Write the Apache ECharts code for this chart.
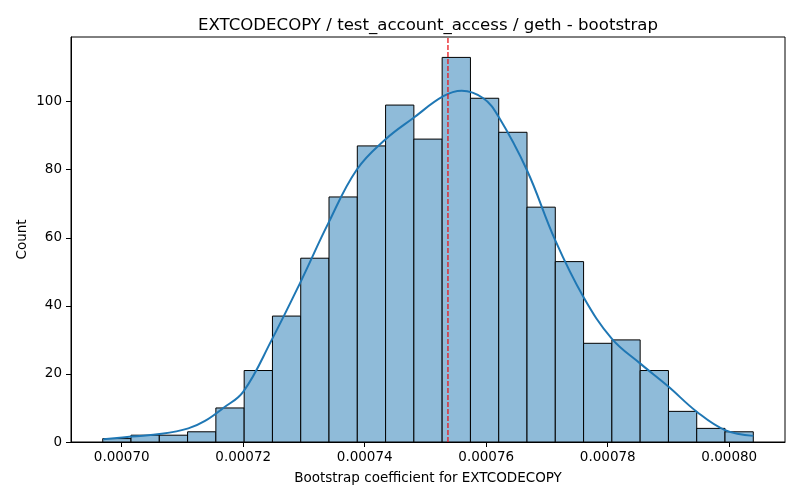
<!DOCTYPE html>
<html>
<head>
<meta charset="utf-8">
<script src="https://cdn.jsdelivr.net/npm/echarts@6/dist/echarts.min.js"></script>
<style>
  html, body { margin: 0; padding: 0; background: #fff; }
  #main { width: 800px; height: 500px; }
</style>
</head>
<body>
<div id="main"></div>
<script>
// histogram counts, 23 equal-width bins
var binStart = 0.000696873;
var binWidth = 0.000004656;
var counts = [1, 2, 2, 3, 10, 21, 37, 54, 72, 87, 99, 89, 113, 101, 91, 69, 53, 29, 30, 21, 9, 4, 3];

// kde curve (scaled to counts)
var kdeX = [0.00069697, 0.00070165, 0.00070658, 0.00071096, 0.00071371, 0.00071672, 0.00072002,
  0.00072469, 0.00072935, 0.00073401, 0.00073868, 0.00074334, 0.00074800, 0.00075294, 0.00075597,
  0.00075952, 0.00076199, 0.00076667, 0.00077133, 0.00077598, 0.00078066, 0.00078532, 0.00078998,
  0.00079465, 0.00079931, 0.00080397];
var kdeY = [0.8, 1.6, 2.4, 4.0, 6.2, 10.0, 14.8, 30, 46.7, 64.3, 80, 88.8, 95.2, 101.6, 103.2,
  101, 95.7, 80, 59.4, 42.7, 30.4, 23.1, 16.3, 8.9, 3.5, 1.8];

// vertical dashed reference line
var meanX = [0.0007537, 0.0007537];
var meanY = [0, 119];

var xTicks = [0.00070, 0.00072, 0.00074, 0.00076, 0.00078, 0.00080];
var yTicks = [0, 20, 40, 60, 80, 100];

var histData = counts.map(function (c, i) {
  return [binStart + i * binWidth, binStart + (i + 1) * binWidth, c];
});
var kdeData = kdeX.map(function (x, i) { return [x, kdeY[i]]; });
var meanData = meanX.map(function (x, i) { return [x, meanY[i]]; });

var font = 'DejaVu Sans';
var chart = echarts.init(document.getElementById('main'));

chart.setOption({
  animation: false,
  backgroundColor: '#fff',
  textStyle: { fontFamily: font },
  title: {
    text: 'EXTCODECOPY / test_account_access / geth - bootstrap',
    left: 423,
    textAlign: 'center',
    top: 12,
    textStyle: { fontFamily: font, fontSize: 16.6, fontWeight: 'normal', color: '#000' }
  },
  grid: {
    left: 71, right: 15, top: 37, bottom: 58,
    show: true, borderColor: '#000', borderWidth: 1, backgroundColor: 'transparent'
  },
  xAxis: {
    type: 'value',
    min: 0.00069165,
    max: 0.00080918,
    name: 'Bootstrap coefficient for EXTCODECOPY',
    nameLocation: 'middle',
    nameGap: 29,
    nameTextStyle: { fontFamily: font, fontSize: 13.5, color: '#000' },
    splitLine: { show: false },
    axisLine: { show: true, lineStyle: { color: '#000', width: 1 } },
    axisTick: { show: true, length: 5, lineStyle: { color: '#000' }, customValues: xTicks },
    axisLabel: {
      color: '#000', fontSize: 13.5, fontFamily: font, margin: 8,
      customValues: xTicks,
      formatter: function (v) { return v.toFixed(5); }
    }
  },
  yAxis: {
    type: 'value',
    min: 0,
    max: 119,
    name: 'Count',
    nameLocation: 'middle',
    nameGap: 42,
    nameMoveOverlap: false,
    nameTextStyle: { fontFamily: font, fontSize: 13.5, color: '#000' },
    splitLine: { show: false },
    axisLine: { show: true, lineStyle: { color: '#000', width: 1 } },
    axisTick: { show: true, length: 5, lineStyle: { color: '#000' }, customValues: yTicks },
    axisLabel: {
      color: '#000', fontSize: 13.5, fontFamily: font, margin: 9,
      customValues: yTicks
    }
  },
  series: [
    {
      type: 'custom',
      data: histData,
      encode: { x: [0, 1], y: 2 },
      renderItem: function (params, api) {
        var p0 = api.coord([api.value(0), api.value(2)]);
        var p1 = api.coord([api.value(1), 0]);
        return {
          type: 'rect',
          shape: { x: p0[0], y: p0[1], width: p1[0] - p0[0], height: p1[1] - p0[1] },
          style: { fill: '#8fbbd9', stroke: '#000', lineWidth: 1 }
        };
      },
      z: 2
    },
    {
      type: 'line',
      data: kdeData,
      smooth: 0.4,
      showSymbol: false,
      lineStyle: { color: '#1f77b4', width: 2 },
      z: 3
    },
    {
      type: 'line',
      data: meanData,
      showSymbol: false,
      lineStyle: { color: '#e8161c', type: [5, 2], width: 1.3 },
      z: 4
    }
  ]
});
</script>
</body>
</html>
